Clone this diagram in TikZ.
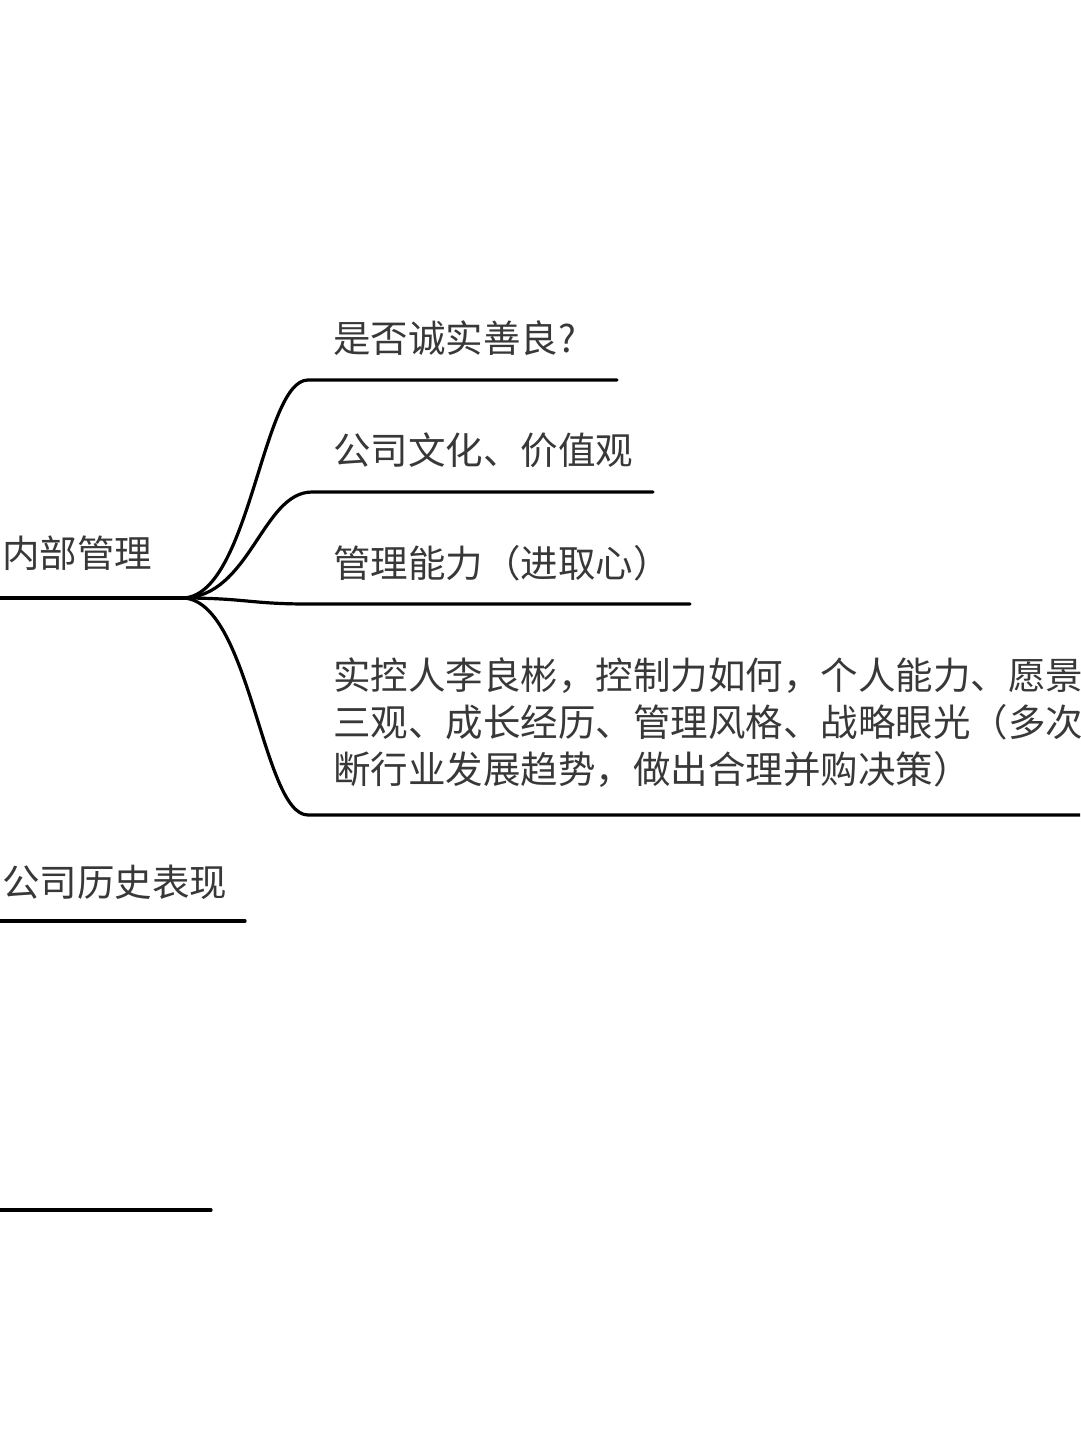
\documentclass[tikz,border=0pt]{standalone}
\usepackage{fontspec}
\setmainfont{Noto Sans CJK SC}
\begin{document}
\begin{tikzpicture}[x=1pt,y=-1pt,
  branch/.style={line width=3.2pt,black,line cap=round},
  label/.style={anchor=west,inner sep=0pt,text=black!78,font=\fontsize{37.5}{47}\selectfont,align=left}]
\path[use as bounding box] (0,0) rectangle (1080,1440);
\clip (0,0) rectangle (1080,1440);
\fill[white] (0,0) rectangle (1080,1440);
% coordinates
\coordinate (r0) at (-5,598);
\coordinate (fan) at (182,598);
\coordinate (b1s) at (308,380);
\coordinate (b1e) at (617,380);
\coordinate (b2s) at (312,492);
\coordinate (b2e) at (653,492);
\coordinate (b3s) at (308,604);
\coordinate (b3e) at (690,604);
\coordinate (b4s) at (308,815);
\coordinate (b4e) at (1090,815);
\coordinate (h0) at (-5,921);
\coordinate (h1) at (245,921);
\coordinate (x0) at (-5,1210);
\coordinate (x1) at (211,1210);
% labels
\node[label] (root) at (2,553) {内部管理};
\node[label] (t1) at (333,338) {是否诚实善良?};
\node[label] (t2) at (333,450) {公司文化、价值观};
\node[label] (t3) at (333,563) {管理能力（进取心）};
\node[label] (t4) at (333,723) {实控人李良彬，控制力如何，个人能力、愿景\\三观、成长经历、管理风格、战略眼光（多次\\断行业发展趋势，做出合理并购决策）};
\node[label] (hist) at (2,882) {公司历史表现};
% connectors
\draw[branch] (r0) -- (fan);
\draw[branch] (fan) .. controls (250,598) and (262,380) .. (b1s) -- (b1e);
\draw[branch] (fan) .. controls (250,598) and (262,492) .. (b2s) -- (b2e);
\draw[branch] (fan) .. controls (245,598) and (250,604) .. (b3s) -- (b3e);
\draw[branch] (fan) .. controls (250,598) and (262,815) .. (b4s) -- (b4e);
\draw[branch] (h0) -- (h1);
\draw[branch] (x0) -- (x1);
\end{tikzpicture}
\end{document}
